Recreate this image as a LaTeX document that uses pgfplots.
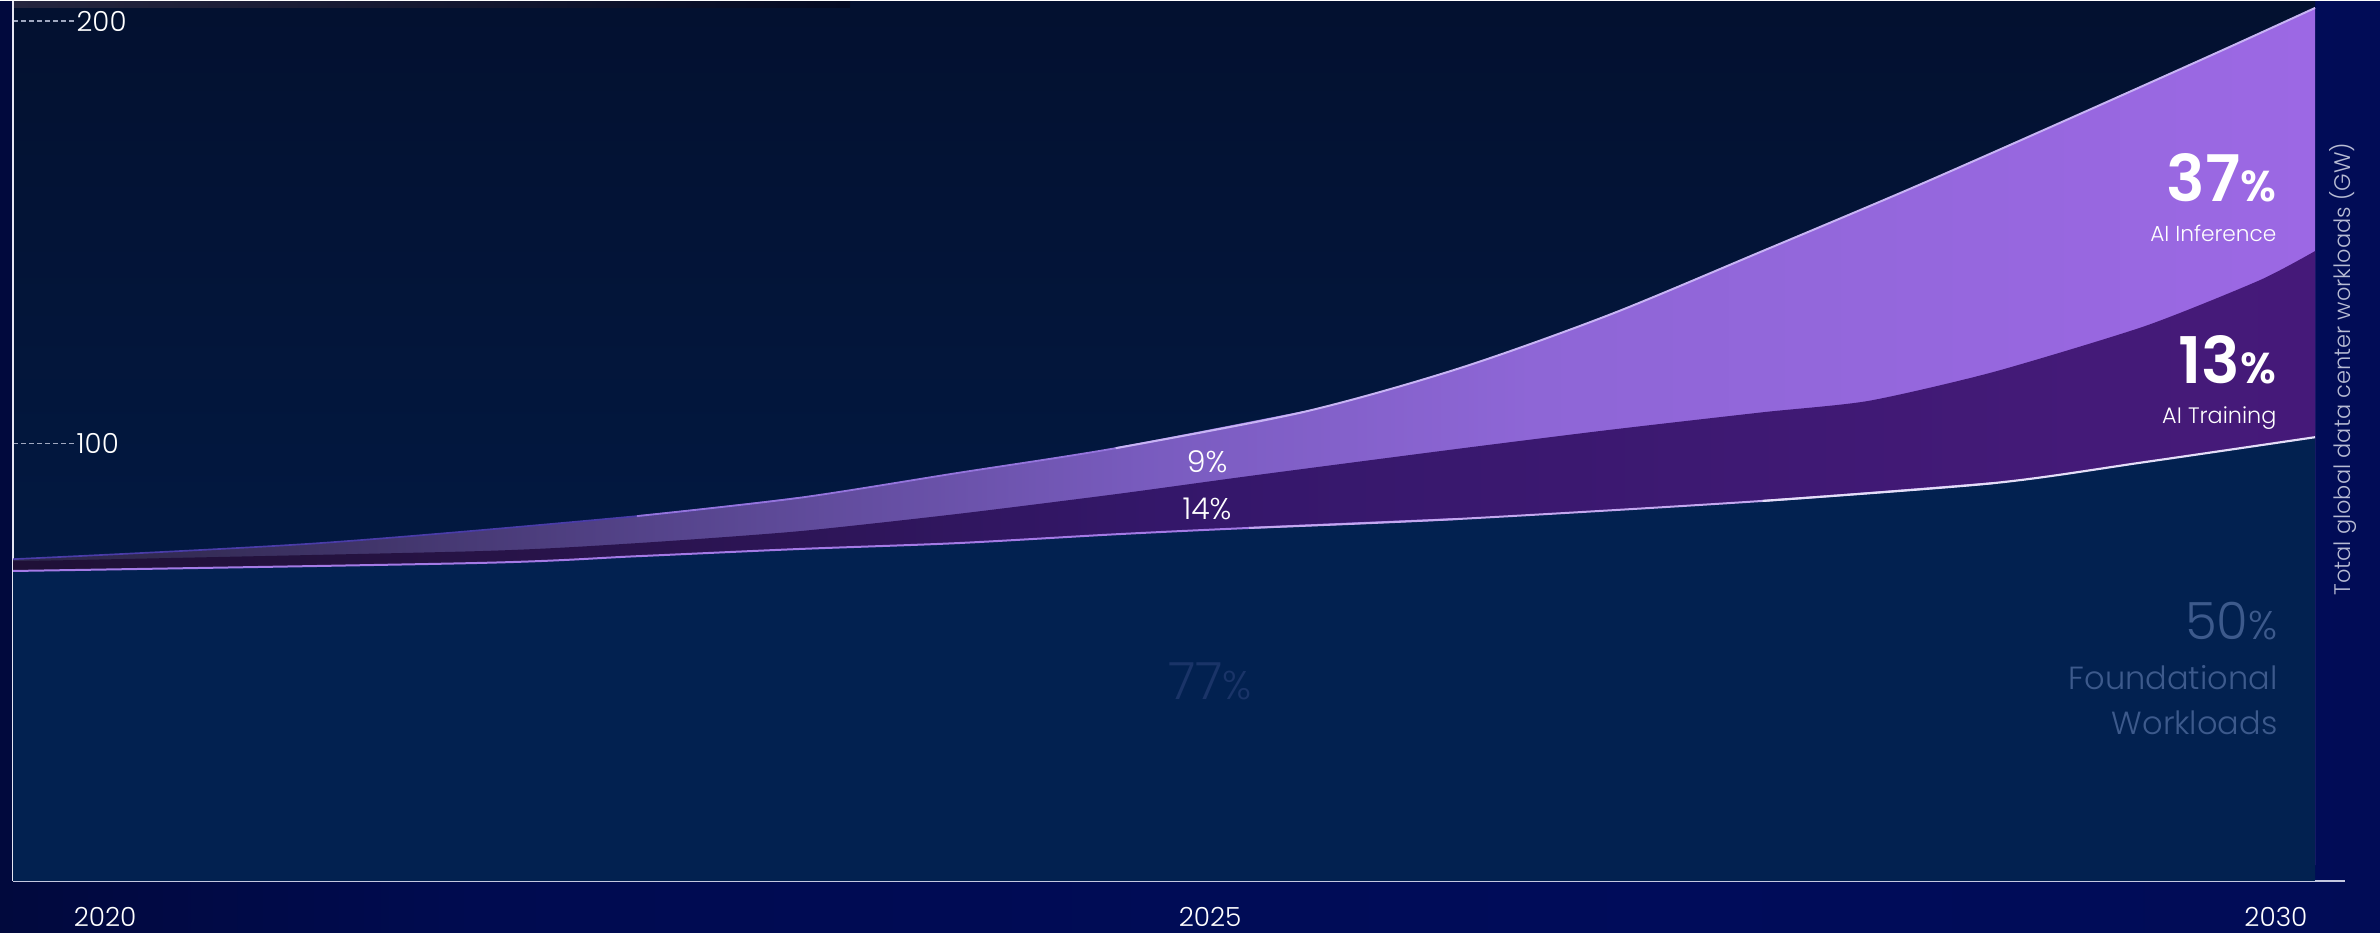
\documentclass[border=0pt]{standalone}
\usepackage{fontspec}
\setmainfont{Poppins}[UprightFont=* Light, BoldFont=* SemiBold]
\usepackage{pgfplots}
\pgfplotsset{compat=1.18}

\definecolor{bgA}{HTML}{03041C}
\definecolor{bgB}{HTML}{02062A}
\definecolor{bgC}{HTML}{000B50}
\definecolor{bgD}{HTML}{000C5A}
\definecolor{bgE}{HTML}{020C50}
\definecolor{plT}{HTML}{040A22}
\definecolor{plM}{HTML}{021A44}
\definecolor{plB}{HTML}{022050}
\definecolor{inA}{HTML}{0F0F22}
\definecolor{inB}{HTML}{1A1830}
\definecolor{inC}{HTML}{322A52}
\definecolor{inD}{HTML}{584690}
\definecolor{inE}{HTML}{7A5CC0}
\definecolor{inF}{HTML}{8E66D6}
\definecolor{inG}{HTML}{9C68E4}
\definecolor{inH}{HTML}{A866EE}
\definecolor{trA}{HTML}{08081A}
\definecolor{trB}{HTML}{190E2E}
\definecolor{trC}{HTML}{24123F}
\definecolor{trD}{HTML}{34176A}
\definecolor{trE}{HTML}{441A78}
\definecolor{trF}{HTML}{4C167E}
\definecolor{fdcol}{HTML}{022150}
\definecolor{xaxc}{HTML}{C4C8E0}
\definecolor{yaxc}{HTML}{E6E6F2}
\definecolor{tickc}{HTML}{A0A8C0}
\definecolor{topL}{HTML}{4A3CA8}
\definecolor{topM}{HTML}{9474DC}
\definecolor{topR}{HTML}{C8B4F4}
\definecolor{lowL}{HTML}{A47AE6}
\definecolor{lowM}{HTML}{C4A8F0}
\definecolor{lowR}{HTML}{E4DEF8}
\definecolor{ylab}{HTML}{B8BCD4}
\definecolor{fndtxt}{HTML}{3D5A8C}
\definecolor{sevtxt}{HTML}{1A3468}
\definecolor{topband}{HTML}{26263F}

\pgfdeclarehorizontalshading{bgsh}{100bp}{color(0bp)=(bgA); color(15bp)=(bgB); color(35bp)=(bgC); color(60bp)=(bgD); color(100bp)=(bgE)}
\pgfdeclareverticalshading{plotsh}{100bp}{color(0bp)=(plB); color(38bp)=(plM); color(100bp)=(plT)}
\pgfdeclarehorizontalshading{infsh}{100bp}{color(0bp)=(inA); color(15bp)=(inB); color(28bp)=(inC); color(40bp)=(inD); color(50bp)=(inE); color(58bp)=(inF); color(75bp)=(inG); color(100bp)=(inH)}
\pgfdeclarehorizontalshading{trnsh}{100bp}{color(0bp)=(trA); color(18bp)=(trB); color(32bp)=(trC); color(50bp)=(trD); color(70bp)=(trE); color(100bp)=(trF)}

\begin{document}
\begin{tikzpicture}
\begin{scope}[x=0.3pt,y=-0.3pt]
  \shade[shading=bgsh] (0,0) rectangle (2380,931);
  \shade[shading=plotsh] (13,0) rectangle (2315,880);
  \shade[left color=topband, right color=plT] (13,0) rectangle (850,6);
\end{scope}
\begin{axis}[
  at={(3.9pt,-264pt)}, anchor=south west,
  scale only axis, width=699.6pt, height=264pt,
  xmin=2020, xmax=2030.13, ymin=-3.79, ymax=204.7,
  axis x line*=bottom, axis y line*=left,
  x axis line style={-, draw=xaxc, line width=0.6pt},
  y axis line style={-, draw=yaxc, line width=0.7pt},
  xtick={2020.40,2025.20,2029.83}, xticklabels={2020,2025,2030},
  ytick={100,200}, yticklabels={100,200},
  /pgf/number format/assume math mode=true,
  tick align=inside, major tick length=18.6pt,
  xtick style={draw=none},
  ytick style={draw=tickc, dash pattern=on 1.5pt off 0.9pt, line width=0.35pt},
  yticklabel style={anchor=west, inner sep=0pt, xshift=18.9pt, font=\fontsize{8.3}{8.3}\selectfont, text=white},
  xticklabel style={anchor=base, inner sep=0pt, yshift=-13.6pt, font=\fontsize{7.9}{7.9}\selectfont, text=white},
]
% AI Inference (top of stack)
\addplot[draw=none, shade, shading=infsh, smooth] coordinates {
  (2020,72.5) (2021.33,76.3) (2022.71,82.7) (2023.41,87.0) (2024.10,92.9) (2024.79,98.8)
  (2025.60,107.3) (2026.27,117.5) (2026.93,130.3) (2027.60,145.5) (2028.26,160.7) (2028.93,176.8)
  (2029.59,192.9) (2030,203.1)} \closedcycle;
% AI Training
\addplot[draw=none, shade, shading=trnsh, smooth, tension=0.4] coordinates {
  (2020,72.0) (2022.02,74.4) (2022.71,76.3) (2023.41,79.1) (2024.10,83.2) (2024.79,87.9)
  (2025.37,92.2) (2026.27,98.6) (2026.93,103.1) (2027.60,107.3) (2028.06,110.0) (2028.60,116.8)
  (2029.26,127.7) (2029.76,138.6) (2030,145.5)} \closedcycle;
% Foundational workloads
\addplot[draw=none, fill=fdcol, smooth] coordinates {
  (2020,69.7) (2022.02,71.6) (2022.71,73.2) (2023.41,74.9) (2024.10,76.3) (2024.79,78.4)
  (2025.37,79.9) (2026.27,82.0) (2027.60,86.3) (2028.60,90.5) (2029.26,95.5) (2030,101.4)} \closedcycle;
\fill[fdcol] (axis cs:2020,-3.79) rectangle (axis cs:2030,0.5);
% edge lines
\addplot[draw=topL, line width=0.5pt, smooth] coordinates {
  (2020,72.5) (2021.33,76.3) (2022.71,82.7) (2023.41,87.0)};
\addplot[draw=topM, line width=0.55pt, smooth] coordinates {
  (2022.71,82.7) (2023.41,87.0) (2024.10,92.9) (2024.79,98.8) (2025.60,107.3)};
\addplot[draw=topR, line width=0.6pt, smooth] coordinates {
  (2024.79,98.8) (2025.60,107.3) (2026.27,117.5) (2026.93,130.3) (2027.60,145.5)
  (2028.26,160.7) (2028.93,176.8) (2029.59,192.9) (2030,203.1)};
\addplot[draw=lowL, line width=0.6pt, smooth] coordinates {
  (2020,69.7) (2022.02,71.6) (2022.71,73.2) (2023.41,74.9) (2024.10,76.3) (2024.79,78.4)
  (2025.37,79.9) (2026.27,82.0)};
\addplot[draw=lowM, line width=0.6pt, smooth] coordinates {
  (2025.37,79.9) (2026.27,82.0) (2027.60,86.3) (2028.60,90.5)};
\addplot[draw=lowR, line width=0.65pt, smooth] coordinates {
  (2027.60,86.3) (2028.60,90.5) (2029.26,95.5) (2030,101.4)};
\end{axis}
\begin{scope}[x=0.3pt,y=-0.3pt]
  \node[anchor=base east, text=white, inner sep=0pt] at (2277,200)
    {\bfseries\fontsize{19.3}{19.3}\selectfont 37\fontsize{13}{13}\selectfont\%};
  \node[anchor=base east, text=white, inner sep=0pt] at (2277,240)
    {\fontsize{6.5}{6.5}\selectfont AI Inference};
  \node[anchor=base east, text=white, inner sep=0pt] at (2277,382)
    {\bfseries\fontsize{19.3}{19.3}\selectfont 13\fontsize{13}{13}\selectfont\%};
  \node[anchor=base east, text=white, inner sep=0pt] at (2277,422)
    {\fontsize{6.7}{6.7}\selectfont AI Training};
  \node[anchor=base east, text=fndtxt, inner sep=0pt] at (2278,638)
    {\fontsize{15.4}{15.4}\selectfont 50\fontsize{12}{12}\selectfont\%};
  \node[anchor=base east, text=fndtxt, inner sep=0pt] at (2278,688)
    {\fontsize{9.6}{9.6}\selectfont Foundational};
  \node[anchor=base east, text=fndtxt, inner sep=0pt] at (2278,733)
    {\fontsize{9.6}{9.6}\selectfont Workloads};
  \node[anchor=base, text=white, inner sep=0pt] at (1207,471)
    {\fontsize{9}{9}\selectfont 9\%};
  \node[anchor=base, text=white, inner sep=0pt] at (1207,518)
    {\fontsize{9}{9}\selectfont 14\%};
  \node[anchor=base, text=sevtxt, inner sep=0pt] at (1210,698)
    {\fontsize{15.4}{15.4}\selectfont 77\fontsize{12}{12}\selectfont\%};
  \node[rotate=90, text=ylab, inner sep=0pt] at (2343,368)
    {\fontsize{6.75}{6.75}\selectfont Total global data center workloads (GW)};
\end{scope}
\end{tikzpicture}
\end{document}
